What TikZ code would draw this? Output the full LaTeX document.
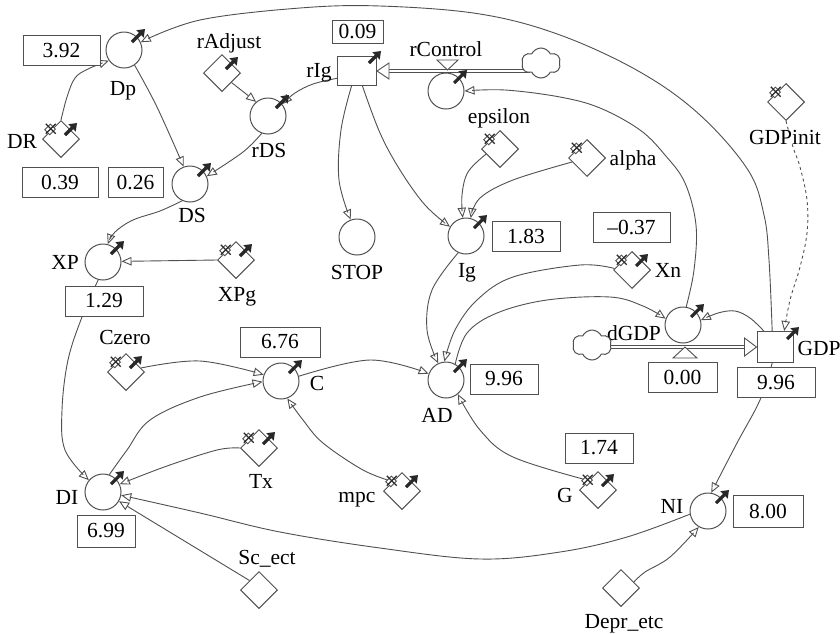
\documentclass[tikz,border=0pt]{standalone}
\usepackage{fontspec}
\setmainfont{Liberation Serif}
\usetikzlibrary{arrows.meta,shapes.geometric,shapes.symbols,calc}
\pgfdeclarelayer{back}
\pgfsetlayers{back,main}
\definecolor{lc}{RGB}{80,80,80}
\definecolor{mkc}{RGB}{40,40,40}
\tikzset{
 every node/.append style={font=\fontsize{21.5}{25}\selectfont},
 aux/.style={circle,draw=lc,fill=white,line width=1pt,minimum size=36pt,inner sep=0pt},
 stockbox/.style={rectangle,draw=lc,fill=white,line width=1pt,minimum width=38pt,minimum height=30pt,inner sep=0pt},
 constd/.style={diamond,aspect=1,draw=lc,fill=white,line width=1pt,minimum width=37pt,minimum height=37pt,inner sep=0pt},
 valbox/.style={rectangle,draw=lc,fill=white,line width=1pt,minimum height=30pt,inner sep=0pt},
 lab/.style={inner sep=0pt,text height=14pt,text depth=0pt},
 cloudn/.style={cloud,cloud puffs=6,cloud puff arc=130,aspect=1.4,draw=lc,fill=white,line width=1pt,minimum width=39pt,minimum height=30pt,inner sep=0pt},
 link/.style={draw=lc,line width=0.9pt,-{Triangle[open,length=10pt,width=8.5pt]}},
 flow/.style={draw=lc,line width=0.9pt,double=white,double distance=2.6pt},
 valve/.style={draw=lc,fill=white,line width=0.9pt},
 mk/.style={draw=mkc,line width=3.2pt,-{Triangle[length=7pt,width=10pt]}},
}
\newcommand\darkc[1]{\draw[mk] ($(#1.center)+(8,-8)$) -- ($(#1.center)+(21,-21)$);}
\newcommand\darkd[1]{\draw[mk] ($(#1.center)+(4,-4)$) -- ($(#1.center)+(16,-16)$);}
\newcommand\darkb[1]{\draw[mk] ($(#1.center)+(12,-8)$) -- ($(#1.center)+(24,-20)$);}
\newcommand\crossd[1]{%
  \begin{scope}[shift={(#1.center)},rotate=45]
    \draw[draw=lc,line width=0.9pt,fill=white] (-5,-18) rectangle (3,-11);
    \draw[draw=mkc,line width=1.1pt] (0,-7.5) -- (0,-21.5);
    \draw[draw=mkc,line width=1.1pt] (-7,-14.5) -- (7,-14.5);
  \end{scope}}
\begin{document}
\begin{tikzpicture}[x=1pt,y=-1pt]
\useasboundingbox (0,0) rectangle (840,633);
\begin{pgfonlayer}{back}
\fill[white] (0,0) rectangle (840,633);
\end{pgfonlayer}

% ---- nodes ----
\node[aux] (Dp) at (124,50) {};
\node[lab] (lDp) at (123,88) {Dp};
\node[valbox,minimum width=77pt] (v392) at (61.5,50.5) {3.92};
\node[constd] (DR) at (61,139) {};
\node[lab] (lDR) at (22,141) {DR};
\node[valbox,minimum width=76pt] (v039) at (60,182) {0.39};
\node[valbox,minimum width=55pt] (v026) at (135.5,182) {0.26};
\node[aux] (DS) at (190,184) {};
\node[lab] (lDS) at (192,215) {DS};
\node[constd] (rAdj) at (222,73) {};
\node[lab] (lrAdj) at (229,41) {rAdjust};
\node[aux] (rDS) at (268,116) {};
\node[lab] (lrDS) at (269,150) {rDS};
\node[stockbox,minimum width=39pt,minimum height=29pt] (rIg) at (357,71) {};
\node[lab] (lrIg) at (319,70) {rIg};
\node[valbox,minimum width=51pt,minimum height=23pt] (v009) at (357.5,31.5) {0.09};
\node[aux] (rCtl) at (446,91) {};
\node[lab] (lrCtl) at (446,49) {rControl};
\node[cloudn] (cl1) at (541,63) {};
\node[constd] (eps) at (500,149) {};
\node[lab] (leps) at (499,116) {epsilon};
\node[constd] (alpha) at (587,158) {};
\node[lab] (lalpha) at (633,158) {alpha};
\node[constd] (GDPi) at (786,102) {};
\node[lab,fill=white] (lGDPi) at (785,137) {GDPinit};
\node[aux] (STOP) at (357,237) {};
\node[lab] (lSTOP) at (357,272) {STOP};
\node[aux] (Ig) at (466,236) {};
\node[lab] (lIg) at (467,270) {Ig};
\node[valbox,minimum width=68pt] (v183) at (526,236.5) {1.83};
\node[aux] (XP) at (103,262) {};
\node[lab] (lXP) at (65,262) {XP};
\node[valbox,minimum width=78pt] (v129) at (104,301) {1.29};
\node[constd] (XPg) at (236,260) {};
\node[lab] (lXPg) at (237,294) {XPg};
\node[valbox,minimum width=77pt] (v037) at (631.5,227.5) {–0.37};
\node[constd] (Xn) at (632,270) {};
\node[lab] (lXn) at (668,270) {Xn};
\node[constd] (Cz) at (126,372) {};
\node[lab] (lCz) at (125,337) {Czero};
\node[valbox,minimum width=80pt] (v676) at (280,342) {6.76};
\node[aux] (C) at (281,381) {};
\node[lab] (lC) at (317,383) {C};
\node[aux] (AD) at (446,380) {};
\node[lab] (lAD) at (437,415) {AD};
\node[valbox,minimum width=68pt] (v996a) at (504,379) {9.96};
\node[aux] (dGDP) at (683,325) {};
\node[lab] (ldGDP) at (634,333) {dGDP};
\node[cloudn] (cl2) at (592,345) {};
\node[stockbox,minimum width=36pt,minimum height=31pt] (GDP) at (775,347) {};
\node[lab] (lGDP) at (819,348) {GDP};
\node[valbox,minimum width=69pt] (v000) at (682.5,377.5) {0.00};
\node[valbox,minimum width=78pt] (v996b) at (776,382.5) {9.96};
\node[constd] (G) at (598,490) {};
\node[lab] (lG) at (565,495) {G};
\node[valbox,minimum width=68pt] (v174) at (599,448) {1.74};
\node[aux] (NI) at (708,511) {};
\node[lab] (lNI) at (672,506) {NI};
\node[valbox,minimum width=70pt,minimum height=32pt] (v800) at (768,511) {8.00};
\node[constd] (Depr) at (621,588) {};
\node[lab] (lDepr) at (624,621) {Depr\_etc};
\node[aux] (DI) at (103,492) {};
\node[lab] (lDI) at (67,497) {DI};
\node[valbox,minimum width=58pt,minimum height=32pt] (v699) at (106,531) {6.99};
\node[constd] (Tx) at (259,448) {};
\node[lab] (lTx) at (261,481) {Tx};
\node[constd] (Sc) at (259,590) {};
\node[lab] (lSc) at (267,557) {Sc\_ect};
\node[constd] (mpc) at (402,491) {};
\node[lab] (lmpc) at (357,495) {mpc};

% ---- connectors ----
\begin{pgfonlayer}{back}
\draw[link] plot[smooth,tension=0.6] coordinates {(GDP.100) (769,260) (764,215) (748,170) (700,115) (640,72) (560,35) (480,14) (380,6) (300,8) (200,20) (Dp.25)};
\draw[link] plot[smooth,tension=0.6] coordinates {(dGDP.80) (694,270) (696,225) (685,183) (665,155) (640,130) (600,108) (560,97) (505,90) (rCtl.0)};
\draw[link,dashed] plot[smooth,tension=0.6] coordinates {(GDPi.south) (793,147) (800,167) (807,200) (807,233) (800,267) (790,300) (GDP.60)};
\draw[link] plot[smooth,tension=0.6] coordinates {(GDP.125) (750,318) (735,311) (718,313) (dGDP.15)};
\draw[link] plot[smooth,tension=0.6] coordinates {(GDP.-100) (760,400) (737,443) (NI.80)};
\draw[link] plot[smooth,tension=0.6] coordinates {(Depr.25) (645,572) (670,557) (NI.-120)};
\draw[link] plot[smooth,tension=0.6] coordinates {(NI.190) (627,537) (560,552) (480,559) (380,548) (280,532) (200,513) (DI.-10)};
\draw[link] (Sc.north west) -- (DI.-30);
\draw[link] plot[smooth,tension=0.6] coordinates {(Tx.west) (217,450) (167,466) (DI.25)};
\draw[link] plot[smooth,tension=0.6] coordinates {(DI.70) (127,450) (150,420) (200,397) (C.182)};
\draw[link] plot[smooth,tension=0.6] coordinates {(XP.-105) (82,317) (68,360) (62,410) (65,450) (DI.140)};
\draw[link] plot[smooth,tension=0.6] coordinates {(Cz.15) (200,361) (C.160)};
\draw[link] plot[smooth,tension=0.6] coordinates {(mpc.north west) (363,470) (323,443) (303,420) (C.-70)};
\draw[link] plot[smooth,tension=0.6] coordinates {(C.15) (370,360) (AD.160)};
\draw[link] plot[smooth,tension=0.6] coordinates {(Ig.-115) (432,290) (427,330) (AD.115)};
\draw[link] plot[smooth,tension=0.6] coordinates {(Xn.175) (580,265) (513,277) (477,300) (455,330) (AD.95)};
\draw[link] plot[smooth,tension=0.6] coordinates {(AD.60) (467,333) (497,313) (547,300) (610,297) (643,306) (dGDP.160)};
\draw[link] plot[smooth,tension=0.6] coordinates {(G.north west) (513,457) (480,430) (AD.-50)};
\draw[link] plot[smooth,tension=0.6] coordinates {(Dp.-55) (157,107) (DS.110)};
\draw[link] plot[smooth,tension=0.6] coordinates {(DR.north) (67,97) (75,78) (88,69) (Dp.215)};
\draw[link] (rAdj.south east) -- (rDS.130);
\draw[link] plot[smooth,tension=0.6] coordinates {(rDS.-110) (243,152) (DS.25)};
\draw[link] plot[smooth,tension=0.6] coordinates {(rIg.-160) (313,84) (295,93) (rDS.40)};
\draw[link] plot[smooth,tension=0.6] coordinates {(DS.-115) (160,211) (133,220) (115,232) (XP.75)};
\draw[link] (XPg.west) -- (XP.2);
\draw[link] plot[smooth,tension=0.6] coordinates {(rIg.-110) (341,130) (339,180) (STOP.110)};
\draw[link] plot[smooth,tension=0.6] coordinates {(rIg.-70) (380,133) (400,170) (425,205) (Ig.150)};
\draw[link] plot[smooth,tension=0.6] coordinates {(eps.200) (468,172) (462,195) (Ig.100)};
\draw[link] plot[smooth,tension=0.6] coordinates {(alpha.195) (513,180) (480,198) (Ig.75)};
% flows
\draw[flow] ($(cl1.west |- rIg.east)+(8,0)$) -- ($(rIg.east)+(12,0)$);
\draw[flow] ($(cl2.east |- GDP.west)+(-8,0)$) -- ($(GDP.west)+(-12,0)$);
\end{pgfonlayer}

% flow heads and valves
\draw[valve] (rIg.east) -- ++(12,-8) -- ++(0,16) -- cycle;
\draw[valve] (GDP.west) -- ++(-12,-9) -- ++(0,18) -- cycle;
\draw[valve] (437,60) -- (458,60) -- (447.5,70) -- cycle;
\draw[valve] (673,358) -- (697,358) -- (685,347) -- cycle;

% markers
\foreach \n in {Dp,DS,rDS,XP,C,AD,Ig,DI,NI,dGDP,rCtl} {\darkc{\n}}
\foreach \n in {DR,XPg,eps,alpha,GDPi,Cz,Tx,mpc,G,Xn} {\crossd{\n}}
\foreach \n in {DR,rAdj,XPg,Cz,Tx,mpc,G,Xn} {\darkd{\n}}
\darkb{rIg}
\darkb{GDP}
\end{tikzpicture}
\end{document}
